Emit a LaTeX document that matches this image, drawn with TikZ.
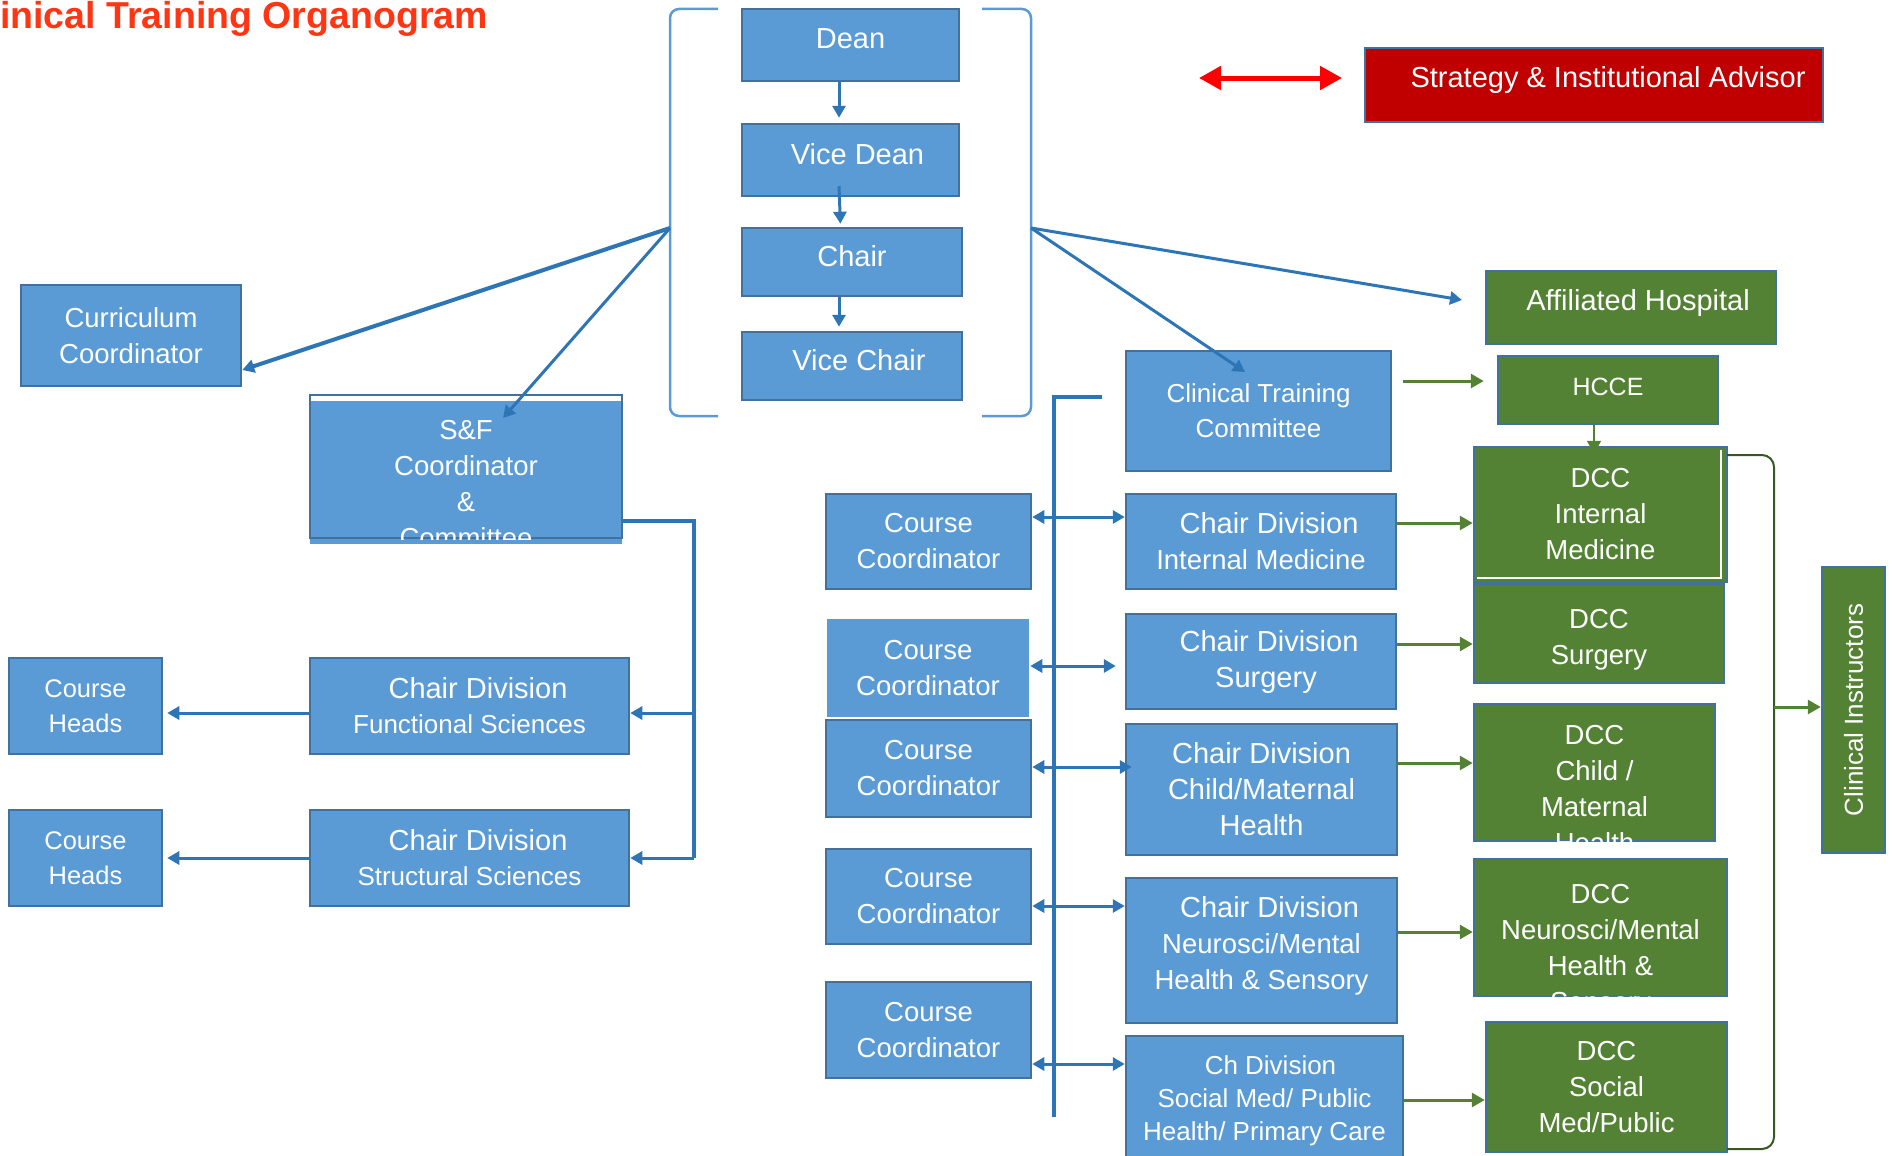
\documentclass[tikz,border=0pt]{standalone}
\usepackage{fontspec}
\setmainfont{Liberation Sans}
\usetikzlibrary{arrows.meta,calc}

\definecolor{boxblue}{HTML}{5B9BD5}
\definecolor{boxline}{HTML}{41719C}
\definecolor{arrowblue}{HTML}{2E75B6}
\definecolor{boxgreen}{HTML}{548235}
\definecolor{darkgreen}{HTML}{385723}
\definecolor{boxred}{HTML}{C00000}
\definecolor{titlered}{HTML}{FF3513}

\newcommand{\cdline}[2][0pt]{{\fontsize{29}{36}\selectfont\hspace*{#1}#2}}

\begin{document}
\begin{tikzpicture}[x=1pt, y=-1pt,
    box/.style={draw=boxline, fill=boxblue, line width=2.5pt, text=white, align=center, inner sep=0pt},
    gbox/.style={box, fill=boxgreen},
    txt/.style={text=white, align=center, inner sep=0pt},
    fbig/.style={font=\fontsize{29}{36}\selectfont},
    fcd/.style={font=\fontsize{28}{36}\selectfont},
    fmid/.style={font=\fontsize{27.5}{36}\selectfont},
    fsmall/.style={font=\fontsize{26}{35}\selectfont},
    barrow/.style={draw=arrowblue, line width=3pt, -{Triangle[length=12pt,width=13pt]}},
    dbarrow/.style={barrow, {Triangle[length=12pt,width=13pt]}-{Triangle[length=12pt,width=13pt]}},
    garrow/.style={draw=boxgreen, line width=3pt, -{Triangle[length=13pt,width=14pt]}},
    bus/.style={draw=arrowblue, line width=4.5pt},
    brack/.style={draw=boxblue, line width=2.5pt, rounded corners=9pt}]

    \useasboundingbox (0,0) rectangle (1892,1156);
    \clip (0,0) rectangle (1892,1156);

    % Title
    \node[anchor=base west, inner sep=0pt, text=titlered, font=\bfseries\fontsize{37.5}{40}\selectfont] (title) at (0,29) {inical Training Organogram};

    % Dean column
    \node[box, fbig, text depth=12pt, minimum width=217pt, minimum height=72pt] (dean) at (850.5,45) {Dean};
    \node[box, fbig, text depth=12pt, minimum width=217pt, minimum height=72pt] (vdean) at (850.5,160) {\hspace*{14pt}Vice Dean};
    \node[box, fbig, text depth=12pt, minimum width=220pt, minimum height=68pt] (chair) at (852,262) {Chair};
    \node[box, fbig, text depth=12pt, minimum width=220pt, minimum height=68pt] (vchair) at (852,366) {\hspace*{14pt}Vice Chair};
    \draw[barrow, shorten >=5pt] ([xshift=-11.5pt]dean.south) -- ([xshift=-11.5pt]vdean.north);
    \draw[barrow, shorten >=3pt] ([xshift=-11.5pt,yshift=11pt]vdean.south) -- ([xshift=-11.5pt]chair.north);
    \draw[barrow, shorten >=4pt] ([xshift=-13pt]chair.south) -- ([xshift=-13pt]vchair.north);

    % Brackets
    \draw[brack] (718,9) -- (670,9) -- (670,416) -- (718,416);
    \draw[brack] (982,9) -- (1031,9) -- (1031,416) -- (982,416);
    \coordinate (lb) at (670,228);
    \coordinate (rb) at (1031,228);

    % Advisor
    \node[box, fill=boxred, fbig, text depth=16pt, minimum width=458pt, minimum height=74pt] (strat) at (1594,85) {\hspace*{28pt}Strategy \& Institutional Advisor};
    \coordinate (ra) at (1199,78);
    \coordinate (rz) at (1342,78);
    \draw[draw=red, line width=5pt, {Triangle[length=22pt,width=23pt]}-{Triangle[length=22pt,width=23pt]}] (ra) -- (rz);

    % Left side
    \node[box, fmid, minimum width=220pt, minimum height=101pt] (curr) at (131,335.5) {Curriculum\\Coordinator};
    \fill[boxblue] (310,401) rectangle (622,544);
    \node[box, fill=none, minimum width=312pt, minimum height=143pt] (sf) at (466,466.5) {};
    \begin{scope}
        \clip (sf.south west) rectangle (sf.north east);
        \node[txt, fmid] (sftext) at ([yshift=-17.5pt]sf.center) {S\&F\\Coordinator\\\&\\Committee};
    \end{scope}
    \coordinate (sftip) at (503,418);
    \draw[barrow, line width=4pt] (lb) -- ([yshift=-34.5pt]curr.east);
    \draw[barrow] (lb) -- (sftip);

    \node[box, fsmall, minimum width=319pt, minimum height=96pt] (cdfun) at (469.5,706) {\cdline[17pt]{Chair Division}\\Functional Sciences};
    \node[box, fsmall, minimum width=319pt, minimum height=96pt] (cdstr) at (469.5,858) {\cdline[17pt]{Chair Division}\\Structural Sciences};
    \node[box, font=\fontsize{25.5}{35}\selectfont, minimum width=153pt, minimum height=96pt] (heads1) at (85.5,706) {Course\\Heads};
    \node[box, font=\fontsize{25.5}{35}\selectfont, minimum width=153pt, minimum height=96pt] (heads2) at (85.5,858) {Course\\Heads};

    \coordinate (sfb) at (694,521);
    \draw[bus, line width=4pt] ([yshift=-54.5pt]sf.east) -- (sfb) -- (sfb |- cdstr.east);
    \draw[barrow] (sfb |- cdfun.east) ++(0,7) -- ([yshift=-7pt]cdfun.east);
    \draw[barrow] (sfb |- cdstr.east) -- (cdstr.east);
    \draw[barrow, shorten >=4pt] ([yshift=-7pt]cdfun.west) -- ([yshift=-7pt]heads1.east);
    \draw[barrow, shorten >=4pt] (cdstr.west) -- (heads2.east);

    % Course coordinators and bus
    \coordinate (busa) at (1102,397);
    \coordinate (busb) at (1054,1117);
    \draw[bus] (busa) -| (busb);
    \node[box, fmid, minimum width=205pt, minimum height=95pt] (cc1) at (928.5,541.5) {Course\\Coordinator};
    \node[box, draw=none, fmid, minimum width=202pt, minimum height=98pt] (cc2) at (928,668) {Course\\Coordinator};
    \node[box, fmid, minimum width=205pt, minimum height=97pt] (cc3) at (928.5,768.5) {Course\\Coordinator};
    \node[box, fmid, minimum width=205pt, minimum height=95pt] (cc4) at (928.5,896.5) {Course\\Coordinator};
    \node[box, fmid, minimum width=205pt, minimum height=96pt] (cc5) at (928.5,1030) {Course\\Coordinator};

    % Clinical chairs
    \node[box, fsmall, minimum width=265pt, minimum height=120pt] (ctc) at (1258.5,411) {Clinical Training\\Committee};
    \node[box, fmid, minimum width=270pt, minimum height=95pt] (cdim) at (1261,541.5) {\cdline[16pt]{Chair Division}\\Internal Medicine};
    \node[box, fbig, minimum width=270pt, minimum height=95pt] (cdsurg) at (1261,661.5) {\cdline[16pt]{Chair Division}\\\hspace*{10pt}Surgery};
    \node[box, fbig, minimum width=271pt, minimum height=131pt] (cdchild) at (1261.5,789.5) {Chair Division\\Child/Maternal\\Health};
    \node[box, fmid, minimum width=271pt, minimum height=145pt] (cdneuro) at (1261.5,950.5) {\cdline[16pt]{Chair Division}\\Neurosci/Mental\\Health \& Sensory\rule[-16pt]{0pt}{16pt}};
    \node[box, font=\fontsize{26}{33}\selectfont, minimum width=277pt, minimum height=130pt] (cdsoc) at (1264.5,1101) {\hspace*{12pt}Ch Division\\Social Med/ Public\\Health/ Primary Care};

    \draw[dbarrow] ([yshift=24.5pt]cc1.east) -- ([yshift=24.5pt]cdim.west);
    \draw[dbarrow, shorten >=9pt] ([yshift=2pt]cc2.east) -- ([yshift=-4.5pt]cdsurg.west);
    \draw[dbarrow, shorten >=-7pt] ([yshift=1.5pt]cc3.east) -- ([yshift=22.5pt]cdchild.west);
    \draw[dbarrow] ([yshift=-9.5pt]cc4.east) -- ([yshift=44.5pt]cdneuro.west);
    \draw[dbarrow] ([yshift=-34pt]cc5.east) -- ([yshift=37pt]cdsoc.west);

    % Hospital side
    \node[gbox, fbig, text depth=16pt, minimum width=290pt, minimum height=73pt] (hosp) at (1631,307.5) {\hspace*{14pt}Affiliated Hospital};
    \node[gbox, font=\fontsize{25}{35}\selectfont, text depth=7pt, minimum width=220pt, minimum height=68pt] (hcce) at (1608,390) {HCCE};
    \node[gbox, fmid, minimum width=253pt, minimum height=135pt] (dccim) at (1600.5,514.5) {DCC\\Internal\\Medicine};
    \draw[white, line width=1.5pt] (1477,578) -- (1721,578) -- (1721,450);
    \node[gbox, fmid, minimum width=250pt, minimum height=99pt] (dccsurg) at (1599,633.5) {\rule{0pt}{31pt}DCC\\Surgery};
    \node[gbox, minimum width=241pt, minimum height=137pt] (dccchild) at (1594.5,772.5) {};
    \begin{scope}
        \clip (dccchild.south west) rectangle (dccchild.north east);
        \node[txt, fmid] (dccchildtext) at ([yshift=-17pt]dccchild.center) {DCC\\Child /\\Maternal\\Health};
    \end{scope}
    \node[gbox, minimum width=253pt, minimum height=137pt] (dccneuro) at (1600.5,927.5) {};
    \begin{scope}
        \clip (dccneuro.south west) rectangle (dccneuro.north east);
        \node[txt, fmid] (dccneurotext) at ([yshift=-23pt]dccneuro.center) {DCC\\Neurosci/Mental\\Health \&\\Sensory};
    \end{scope}
    \node[gbox, fmid, minimum width=241pt, minimum height=130pt] (dccsoc) at (1606.5,1087) {DCC\\Social\\Med/Public};

    \coordinate (hosptip) at (1462,300);
    \coordinate (ctctip) at (1245,372);
    \draw[barrow] (rb) -- (hosptip);
    \draw[barrow] (rb) -- (ctctip);

    \draw[garrow, shorten <=11pt, shorten >=13pt] ([yshift=30pt]ctc.east) -- ([yshift=9pt]hcce.west);
    \draw[garrow, line width=2pt, shorten >=-8pt] ([xshift=-14pt]hcce.south) -- ([xshift=-6.5pt]dccim.north);
    \draw[garrow] ([yshift=18.5pt]cdim.east) -- ([yshift=-8.5pt]dccim.west);
    \draw[garrow] ([yshift=17.5pt]cdsurg.east) -- ([yshift=-10.5pt]dccsurg.west);
    \draw[garrow] ([yshift=26.5pt]cdchild.east) -- ([yshift=9.5pt]dccchild.west);
    \draw[garrow] ([yshift=18.5pt]cdneuro.east) -- ([yshift=-4.5pt]dccneuro.west);
    \draw[garrow] ([yshift=1pt]cdsoc.east) -- ([yshift=-13pt]dccsoc.west);

    % Clinical instructors
    \node[gbox, minimum width=63pt, minimum height=286pt] (ci) at (1853.5,710) {};
    \node[txt, fsmall, rotate=90] (citext) at (ci.center) {Clinical Instructors};
    \coordinate (ga) at (1727,455);
    \coordinate (gb) at (1774,1149);
    \draw[darkgreen, line width=2pt, rounded corners=12pt] (ga) -- (ga -| gb) -- (gb) -- (gb -| ga);
    \coordinate (gmid) at (1774,707);
    \draw[garrow] (gmid) -- ([yshift=3pt]ci.west);
\end{tikzpicture}
\end{document}
